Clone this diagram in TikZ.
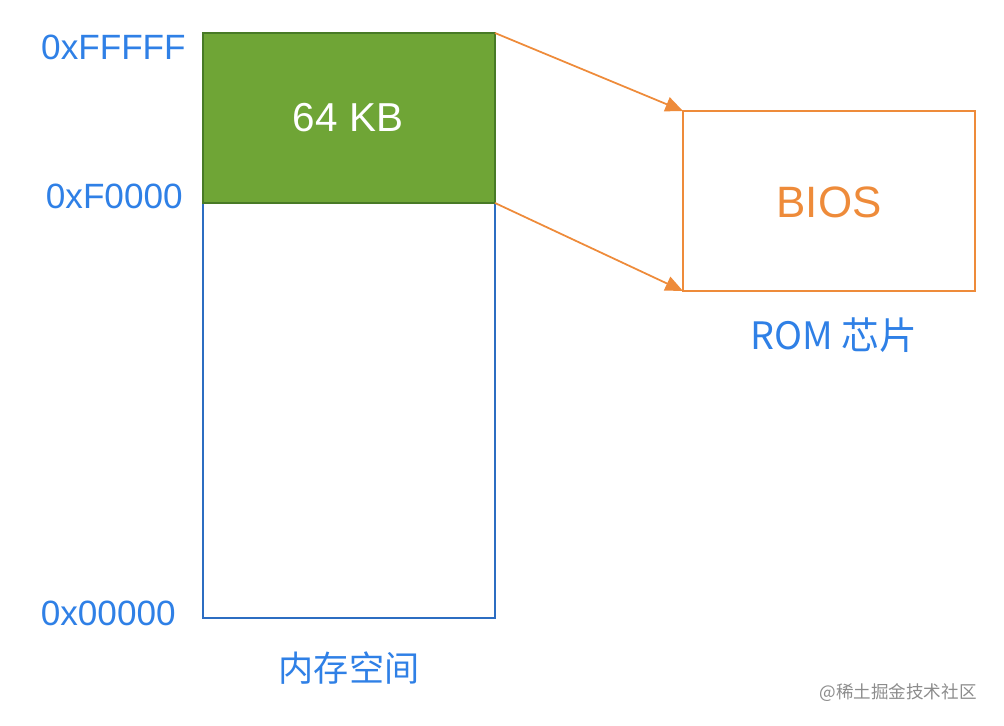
\documentclass[tikz,border=0pt]{standalone}
\usepackage{fontspec}
\setmainfont{Liberation Sans}
\newfontfamily\cjk{Noto Sans CJK SC}
\usepackage{xcolor}
\usetikzlibrary{positioning,arrows.meta}
\definecolor{addrblue}{HTML}{2F80E6}
\definecolor{memblue}{HTML}{2C6DC2}
\definecolor{kbgreen}{HTML}{6FA536}
\definecolor{kbdark}{HTML}{487A26}
\definecolor{romorange}{HTML}{EE8B3A}
\tikzset{
  addr/.style={text=addrblue, font=\fontsize{20}{24}\selectfont, anchor=east, inner sep=0pt},
  caption/.style={text=addrblue, font=\fontsize{20}{24}\selectfont\cjk, inner sep=0pt},
  maparrow/.style={draw=romorange, line width=1pt, -{Triangle[length=10pt,width=8.5pt]}}
}

\begin{document}
\begin{tikzpicture}[x=0.02cm, y=-0.02cm]
  \useasboundingbox (0,0) rectangle (1004,726);

  % memory space: 0x00000 .. 0xFFFFF
  \draw[memblue, line width=1.2pt] (203,203) rectangle (495,618);
  \node[coordinate] (mem) at (349,410) {};

  % top 64 KB block
  \draw[fill=kbgreen, draw=kbdark, line width=1.2pt] (203,33) rectangle (495,203);
  \node[text=white, font=\fontsize{23}{27}\selectfont] (kb) at (348,118) {64 KB};
  \coordinate (kbtop) at (495,33);
  \coordinate (kbbot) at (495,203);

  % ROM chip
  \draw[romorange, line width=1.2pt] (683,111) rectangle (975,291);
  \node[text=romorange, font=\fontsize{25}{29}\selectfont] (bios) at (829,202) {BIOS};
  \coordinate (romtop) at (683,111);
  \coordinate (rombot) at (683,291);

  % addresses
  \node[addr] (ffff) at (186,47) {0xFFFFF};
  \node[addr] (f000) at (183,196) {0xF0000};
  \node[addr] (zero) at (176,613) {0x00000};

  % captions
  \node[caption] (memcap) at (349,668) {内存空间};
  \node[caption, font=\fontsize{21.5}{25}\selectfont\cjk] (romcap) at (834,335) {ROM 芯片};

  % mapping arrows
  \draw[maparrow] (kbtop) -- (romtop);
  \draw[maparrow] (kbbot) -- (rombot);

  % watermark
  \node[text=black!45, font=\fontsize{10}{12}\selectfont\cjk, inner sep=0pt] (mark) at (898,693) {@稀土掘金技术社区};
\end{tikzpicture}
\end{document}
